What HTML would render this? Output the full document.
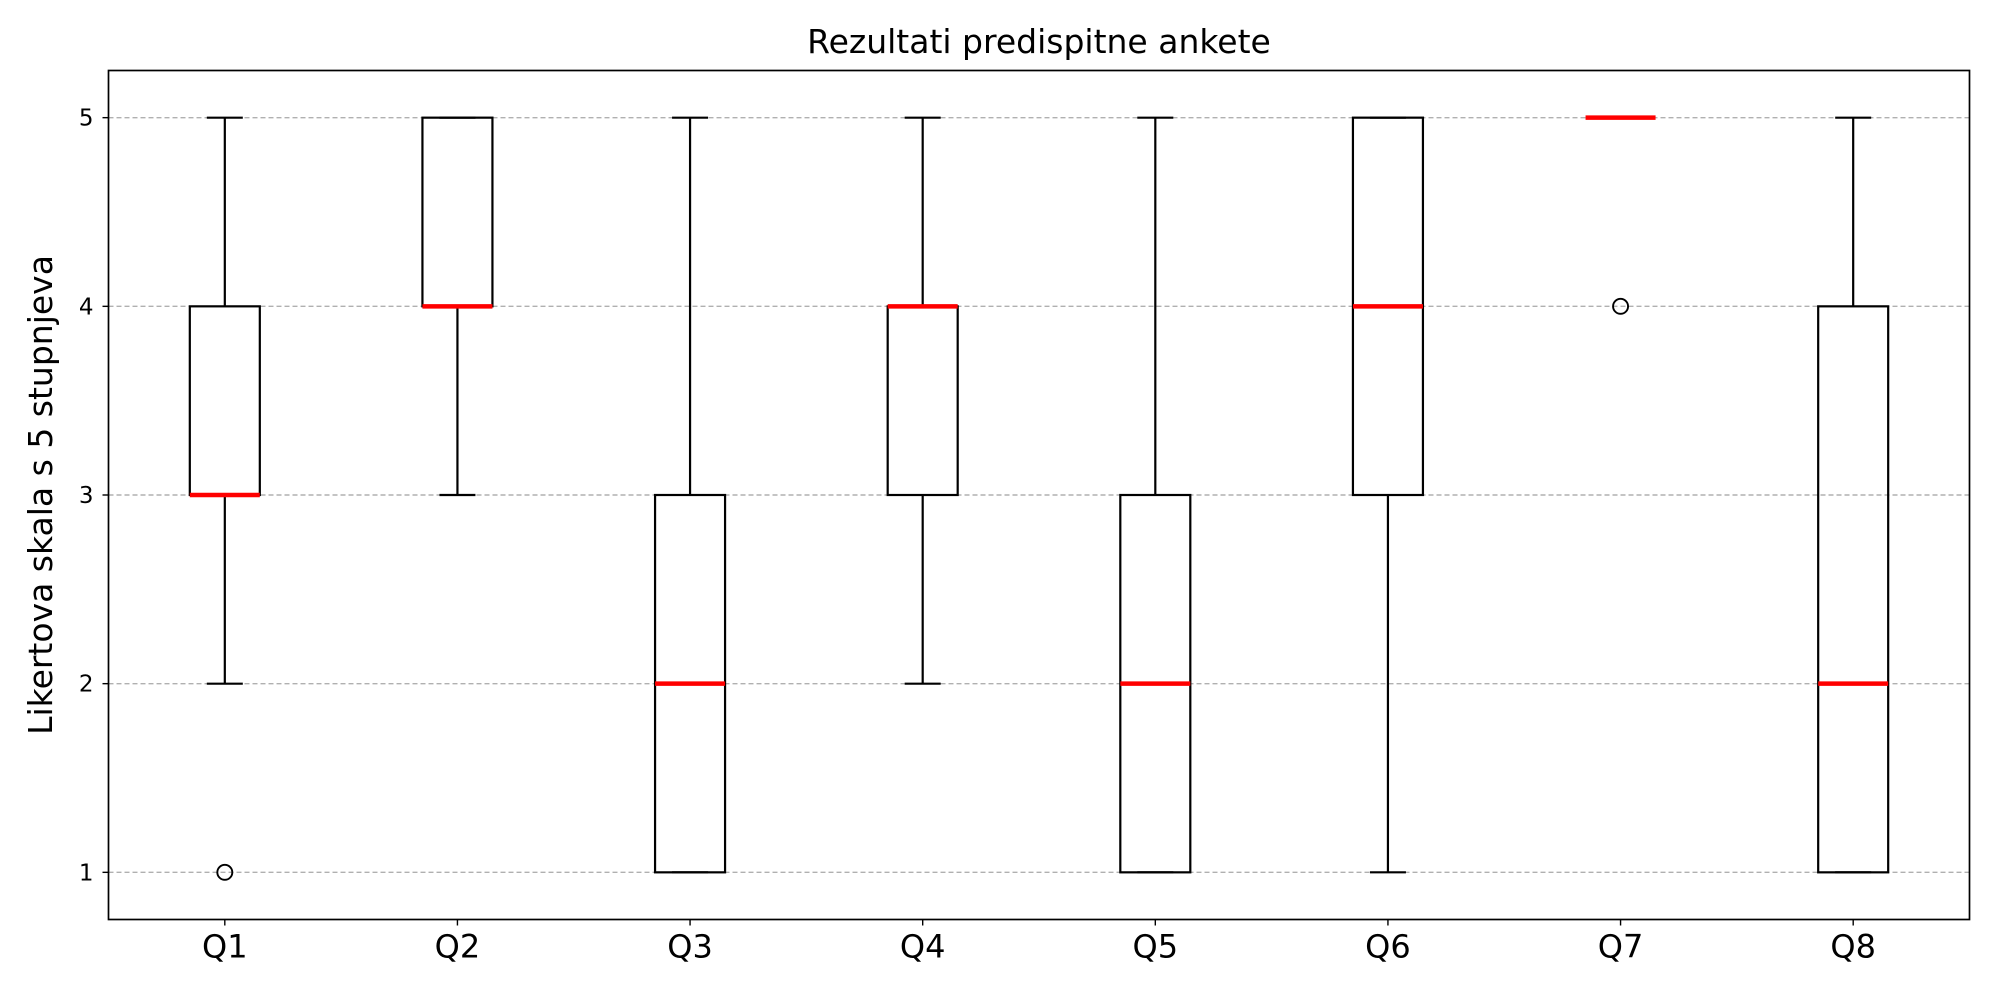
<!DOCTYPE html>
<html><head><meta charset="utf-8"><style>
html,body{margin:0;padding:0;background:#fff;}
svg{display:block;font-family:"DejaVu Sans","Liberation Sans",sans-serif;}
</style></head><body>
<svg id="chart" width="2000" height="1000" viewBox="0 0 2000 1000">
<rect width="2000" height="1000" fill="#fff"/>
<text x="1039" y="53" font-size="33" text-anchor="middle">Rezultati predispitne ankete</text>
<text transform="translate(52,495) rotate(-90)" font-size="33" text-anchor="middle">Likertova skala s 5 stupnjeva</text>
<g id="grid"></g><g id="boxes"></g><g id="ticks"></g>
<rect x="108.5" y="70.5" width="1861" height="849" fill="none" stroke="#000" stroke-width="1.7"/>
</svg>
<script>
const categories=["Q1","Q2","Q3","Q4","Q5","Q6","Q7","Q8"];
const whiskerLow=[2,3,1,2,1,1,5,1];
const q1Values=[3,4,1,3,1,3,5,1];
const medians=[3,4,2,4,2,4,5,2];
const q3Values=[4,5,3,4,3,5,5,4];
const whiskerHigh=[5,5,5,5,5,5,5,5];
const outliers=[[1],[],[],[],[],[],[4],[]];
const yTicks=[1,2,3,4,5];

const L=108.5,R=1969.5,T=70.5,B=919.5;
const X=i=>L+(i+1-0.5)/8*(R-L);
const Y=v=>B-(v-0.75)/4.5*(B-T);
const NS="http://www.w3.org/2000/svg";
function mk(parent,tag,attrs){const e=document.createElementNS(NS,tag);for(const k in attrs)e.setAttribute(k,attrs[k]);parent.appendChild(e);return e;}
const grid=document.getElementById('grid'),boxes=document.getElementById('boxes'),ticks=document.getElementById('ticks');
yTicks.forEach(t=>{
  const g=mk(grid,'line',{x1:L,x2:R,y1:Y(t),y2:Y(t),stroke:'#b0b0b0','stroke-width':1.4,'stroke-dasharray':'5,3'});
  
  
  const tk=mk(ticks,'line',{x1:L-6,x2:L,y1:Y(t),y2:Y(t),stroke:'#000','stroke-width':1.4});
  
  
  const tl=mk(ticks,'text',{x:L-15,y:Y(t)+8,'font-size':23,'text-anchor':'end'});
  tl.textContent=t;
  
  
});
categories.forEach((c,i)=>{
  const x=X(i),hw=35,cw=18;
  const g=mk(boxes,'g',{});
  
  
  const s={stroke:'#000','stroke-width':2.2,fill:'none'};
  mk(g,'line',Object.assign({x1:x,x2:x,y1:Y(whiskerLow[i]),y2:Y(q1Values[i])},s));
  mk(g,'line',Object.assign({x1:x,x2:x,y1:Y(q3Values[i]),y2:Y(whiskerHigh[i])},s));
  mk(g,'line',Object.assign({x1:x-cw,x2:x+cw,y1:Y(whiskerLow[i]),y2:Y(whiskerLow[i])},s));
  mk(g,'line',Object.assign({x1:x-cw,x2:x+cw,y1:Y(whiskerHigh[i]),y2:Y(whiskerHigh[i])},s));
  mk(g,'rect',Object.assign({x:x-hw,y:Y(q3Values[i]),width:2*hw,height:Y(q1Values[i])-Y(q3Values[i])},s));
  const m=mk(g,'line',{x1:x-hw,x2:x+hw,y1:Y(medians[i]),y2:Y(medians[i]),stroke:'#f00','stroke-width':4.5});
  
  
  outliers[i].forEach(o=>{
    const p=mk(g,'circle',{cx:x,cy:Y(o),r:7.5,fill:'none',stroke:'#000','stroke-width':1.9});
    
    
  });
  const tk=mk(ticks,'line',{x1:x,x2:x,y1:B,y2:B+6,stroke:'#000','stroke-width':1.4});
  
  
  const tl=mk(ticks,'text',{x:x,y:B+38,'font-size':32,'text-anchor':'middle'});
  tl.textContent=c;
  
  
});
</script>
</body></html>
